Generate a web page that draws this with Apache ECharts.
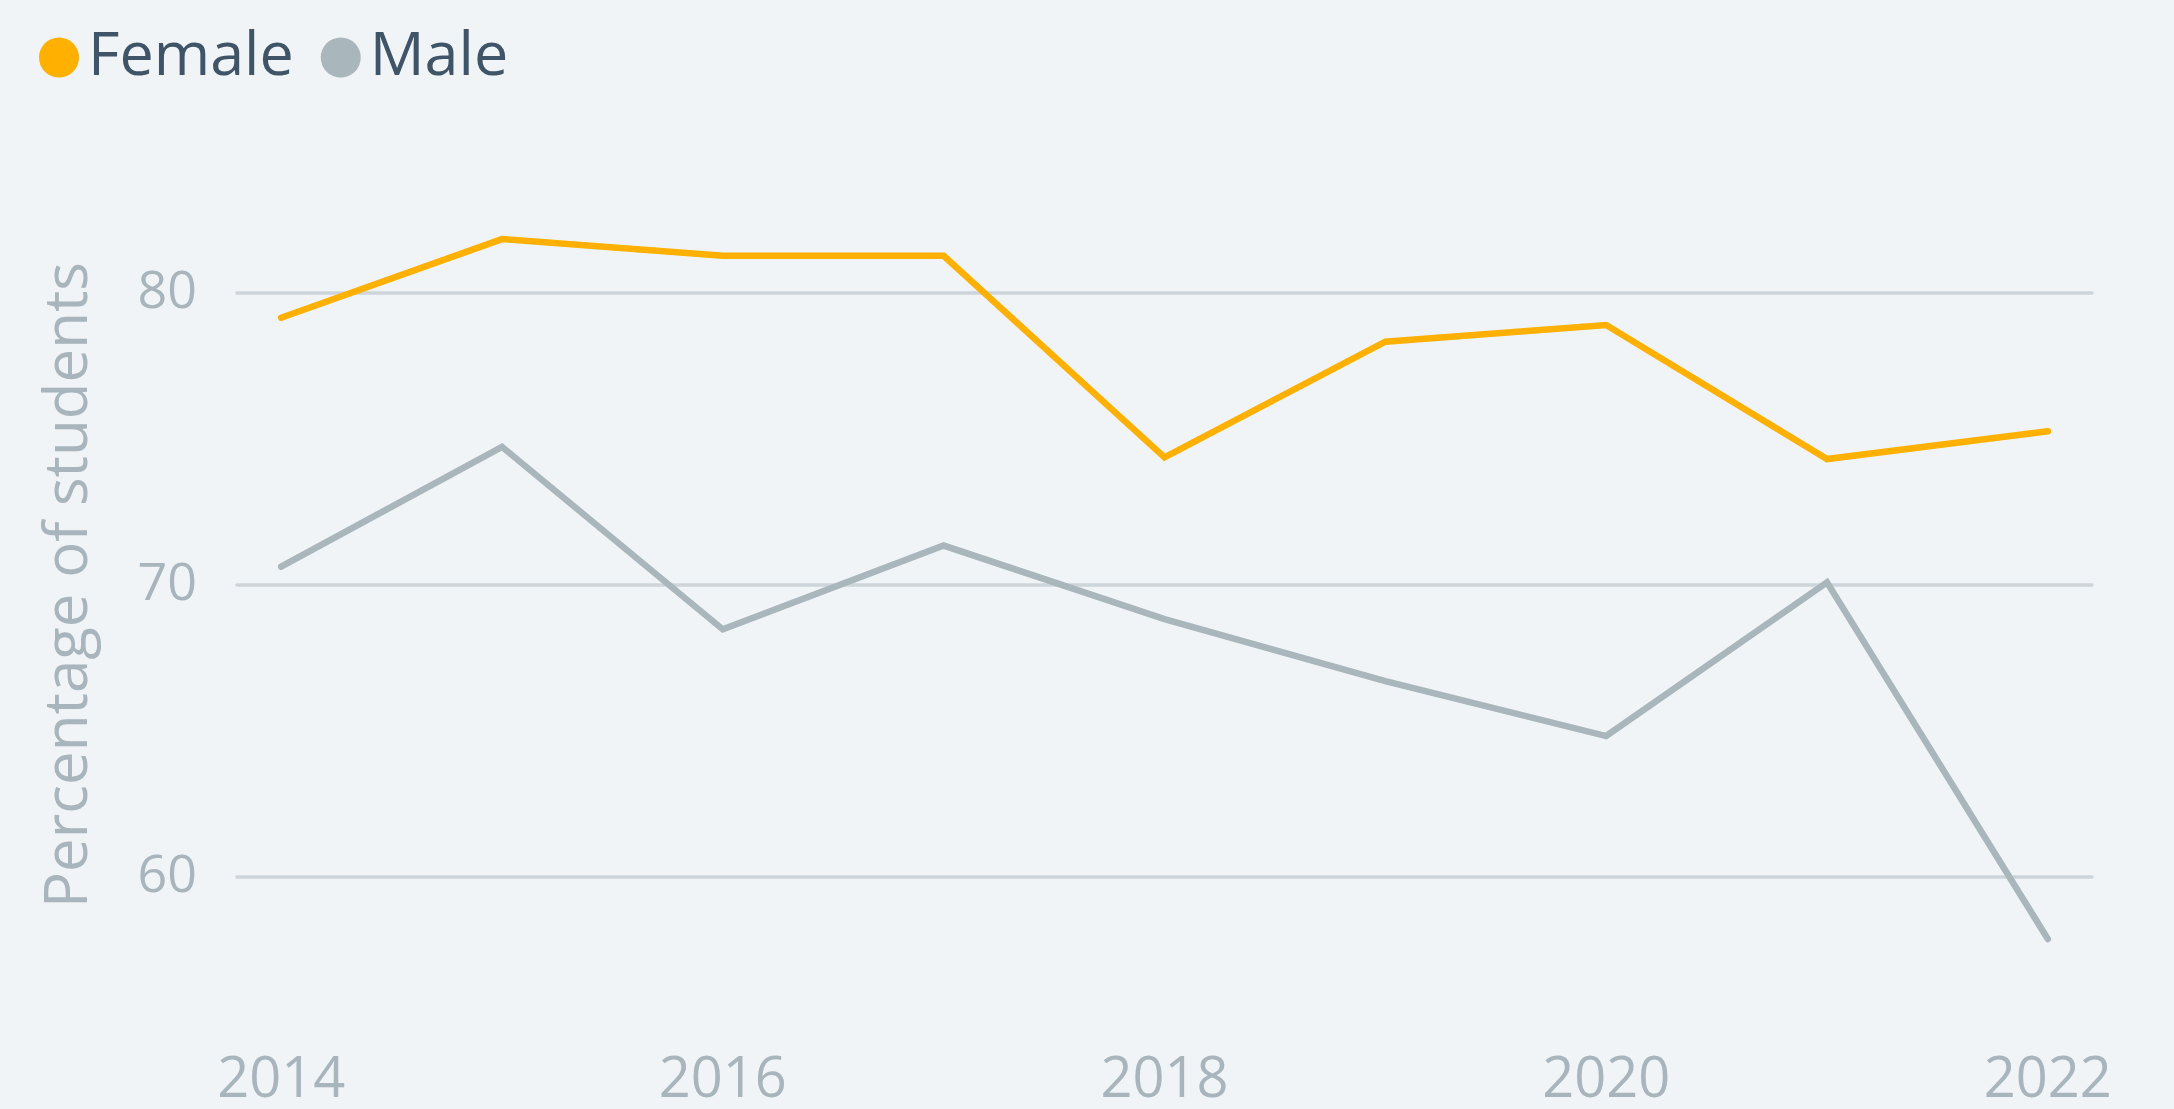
<!DOCTYPE html>
<html>
<head>
<meta charset="utf-8">
<script src="https://cdn.jsdelivr.net/npm/echarts@6/dist/echarts.min.js"></script>
<style>
  html, body { margin: 0; padding: 0; background: #f0f4f7; }
  #chart { width: 2174px; height: 1109px; }
</style>
</head>
<body>
<div id="chart"></div>
<script>
const years = [2014, 2015, 2016, 2017, 2018, 2019, 2020, 2021, 2022]
const female = [79.15, 81.84, 81.27, 81.27, 74.37, 78.33, 78.9, 74.31, 75.26]
const male = [70.63, 74.73, 68.48, 71.35, 68.83, 66.71, 64.83, 70.09, 57.88]
const xTicks = [2014, 2016, 2018, 2020, 2022]
const yTicks = [60, 70, 80]

const labelColor = '#a8b5bc'
const font = '"Open Sans", "Noto Sans", sans-serif'

const chart = echarts.init(document.getElementById('chart'))
const option = {
  backgroundColor: '#f0f4f7',
  animation: false,
  legend: {
    left: 39,
    top: 27,
    padding: 0,
    icon: 'circle',
    itemWidth: 40,
    itemHeight: 40,
    itemGap: 27,
    textStyle: {
      fontFamily: font,
      fontSize: 61,
      color: '#3f5467',
      padding: [0, 0, 0, 4]
    },
    data: ['Female', 'Male']
  },
  grid: {
    left: 237,
    right: 82,
    top: 176,
    bottom: 113,
    containLabel: false
  },
  xAxis: {
    type: 'value',
    min: 2013.8,
    max: 2022.2,
    axisLine: { show: false },
    axisTick: { show: false },
    splitLine: { show: false },
    axisLabel: {
      customValues: xTicks,
      margin: 59,
      fontFamily: font,
      fontSize: 56,
      color: labelColor,
      formatter: v => String(v)
    }
  },
  yAxis: {
    type: 'value',
    min: 56,
    max: 84,
    name: 'Percentage of students',
    nameLocation: 'middle',
    nameGap: 137,
    nameTextStyle: {
      fontFamily: font,
      fontSize: 60,
      color: labelColor
    },
    axisLine: { show: false },
    axisTick: { show: false, customValues: yTicks },
    axisLabel: {
      customValues: yTicks,
      margin: 40,
      fontFamily: font,
      fontSize: 52,
      color: labelColor
    },
    splitLine: {
      show: true,
      lineStyle: { color: '#cdd5db', width: 3.5, cap: 'round' }
    }
  },
  series: [
    {
      name: 'Female',
      type: 'line',
      data: years.map((y, i) => [y, female[i]]),
      showSymbol: false,
      symbol: 'circle',
      itemStyle: { color: '#ffb000' },
      lineStyle: { color: '#ffb000', width: 6.5, cap: 'round', join: 'miter' }
    },
    {
      name: 'Male',
      type: 'line',
      data: years.map((y, i) => [y, male[i]]),
      showSymbol: false,
      symbol: 'circle',
      itemStyle: { color: '#a9b6bc' },
      lineStyle: { color: '#a9b6bc', width: 6.5, cap: 'round', join: 'miter' }
    }
  ]
}
chart.setOption(option)
</script>
</body>
</html>
